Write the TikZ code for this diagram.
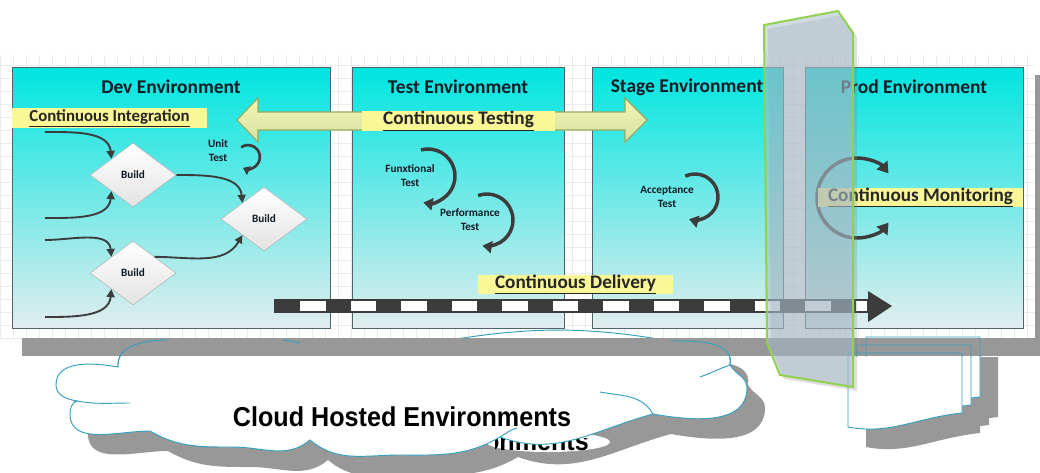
\documentclass[tikz,border=0pt]{standalone}
\usepackage{fontspec}
\setmainfont{Carlito}
\newfontfamily\cloudfont[FakeStretch=0.92]{Liberation Sans}
\usetikzlibrary{shapes.geometric}
\usetikzlibrary{arrows.meta}
\newcommand{\pxu}{0.75pt}

\definecolor{envtop}{RGB}{0,229,224}
\definecolor{envmid}{RGB}{85,226,224}
\definecolor{envbot}{RGB}{226,237,238}
\definecolor{envline}{RGB}{80,100,105}
\definecolor{titletext}{RGB}{15,25,35}
\definecolor{hilite}{RGB}{250,247,150}
\definecolor{testtop}{RGB}{245,246,175}
\definecolor{testbot}{RGB}{212,224,165}
\definecolor{testline}{RGB}{150,170,90}
\definecolor{darkarr}{RGB}{60,60,60}
\definecolor{shadowgrey}{RGB}{152,152,152}
\definecolor{cloudline}{RGB}{50,160,190}
\definecolor{panefill}{RGB}{170,190,205}
\definecolor{panegreen}{RGB}{146,208,80}

\tikzset{
  envbox/.style={draw=envline, line width=0.8pt, top color=envtop, middle color=envmid, bottom color=envbot, anchor=north west, inner sep=0pt},
  envtitle/.style={font=\fontsize{14.6}{16}\selectfont\bfseries, text=titletext},
  hilite/.style={fill=hilite, inner sep=0pt, font=\fontsize{14.4}{16}\selectfont\bfseries, text=black!85},
  buildbox/.style={diamond, draw=gray!60, top color=white, bottom color=gray!22, minimum width=86*\pxu, minimum height=64*\pxu, inner sep=0pt, font=\fontsize{8.4}{9}\selectfont\bfseries, text=titletext},
  flow/.style={draw=darkarr, line width=1.4pt, -{Triangle[length=6pt,width=6pt]}},
  cyclearrow/.style={draw=darkarr, line width=2.6pt, -{Triangle[length=7pt,width=9pt]}},
  smalllabel/.style={font=\fontsize{8.4}{10.5}\selectfont\bfseries, align=center, text=titletext},
  gridline/.style={draw=gray!16, line width=0.4pt},
  docpage/.style={draw=cloudline, line width=0.7pt, fill=white},
  cloudedge/.style={draw=cloudline, line width=0.7pt},
  cloudtext/.style={font=\cloudfont\bfseries\fontsize{20.5}{24}\selectfont, text=black, inner sep=0pt}
}

\begin{document}
\begin{tikzpicture}[x=0.75pt,y=0.75pt]
  \useasboundingbox (0,0) rectangle (1040,-472);

  \fill[shadowgrey] (1035,-75) rectangle (1040,-338);
  \fill[white] (0,-55) rectangle (1035,-338);
  \draw[gridline, step=9.75pt] (0,-338) grid (1035,-55);

  \node[envbox, minimum width=318*\pxu, minimum height=261*\pxu] (dev) at (12,-67) {};
  \node[envbox, minimum width=212*\pxu, minimum height=261*\pxu] (test) at (352,-67) {};
  \node[envbox, minimum width=191*\pxu, minimum height=261*\pxu] (stage) at (592,-67) {};
  \node[envbox, minimum width=218*\pxu, minimum height=261*\pxu] (prod) at (805,-67) {};

  \node[envtitle] (devtitle) at (171,-87) {Dev Environment};
  \node[envtitle] (testtitle) at (458,-87) {Test Environment};
  \node[envtitle] (stagetitle) at (687,-87) {Stage Environment};
  \node[envtitle] (prodtitle) at (914,-87) {Prod Environment};

  \draw[draw=testline, top color=testtop, bottom color=testbot, line width=0.8pt] (237,-120) -- (258,-98) -- (258,-112) -- (625,-112) -- (625,-98) -- (647,-120) -- (625,-142) -- (625,-130) -- (258,-130) -- (258,-142) -- cycle;

  \node[hilite, minimum width=195*\pxu, minimum height=20*\pxu, font=\fontsize{12.6}{14}\selectfont\bfseries] (ci) at (109.5,-118) {\underline{Continuous Integration}};
  \node[hilite, minimum width=193*\pxu, minimum height=19*\pxu] (ct) at (458.5,-121) {\underline{Continuous Testing}};

  \node[buildbox] (b1) at (133,-175) {Build};
  \node[buildbox] (b2) at (264,-219) {Build};
  \node[buildbox] (b3) at (133,-273) {Build};
  \coordinate (in1) at (45,-132);
  \coordinate (in2) at (45,-218);
  \coordinate (in3) at (45,-240);
  \coordinate (in4) at (45,-317);
  \draw[flow] (in1) to[out=0,in=95] (b1.north west);
  \draw[flow] (in2) to[out=0,in=-95] (b1.south west);
  \draw[flow] (in3) to[out=0,in=95] (b3.north west);
  \draw[flow] (in4) to[out=0,in=-95] (b3.south west);
  \draw[flow] (b1.east) to[out=0,in=95] (b2.north west);
  \draw[flow] (b3.north east) to[out=0,in=-120] (b2.south west);

  \node[smalllabel] (unitlbl) at (218,-151) {Unit\\Test};
  \coordinate (unitc) at (248,-157);
  \draw[cyclearrow, line width=2pt, -{Triangle[length=5pt,width=7pt]}] (unitc) ++(125:12) arc[start angle=125, end angle=-115, radius=12];

  \node[smalllabel] (funclbl) at (410,-176) {Funxtional\\Test};
  \coordinate (funcc) at (428,-176);
  \draw[cyclearrow] (funcc) ++(105:27) arc[start angle=105, end angle=-100, radius=27];
  \node[smalllabel] (perflbl) at (470,-220) {Performance\\Test};
  \coordinate (perfc) at (487,-220);
  \draw[cyclearrow] (perfc) ++(110:26) arc[start angle=110, end angle=-100, radius=26];

  \node[smalllabel] (acclbl) at (667,-197) {Acceptance\\Test};
  \coordinate (accc) at (695,-197);
  \draw[cyclearrow] (accc) ++(115:23) arc[start angle=115, end angle=-105, radius=23];

  \coordinate (monc) at (857,-198);
  \draw[cyclearrow, -{Triangle[length=8pt,width=10pt]}] (monc) ++(180:40) arc[start angle=180, end angle=38, radius=40];
  \draw[cyclearrow, -{Triangle[length=8pt,width=10pt]}] (monc) ++(180:40) arc[start angle=180, end angle=322, radius=40];
  \node[hilite, minimum width=205*\pxu, minimum height=19*\pxu] (cm) at (920.5,-197.5) {\underline{Continuous Monitoring}};

  \node[hilite, minimum width=195*\pxu, minimum height=17*\pxu] (cd) at (575.5,-284.5) {\underline{Continuous Delivery}};
  \draw[draw=darkarr, fill=white, line width=0.8pt] (275,-300) rectangle (868,-312);
  \foreach \k in {0,...,11}
    \fill[darkarr] ({275+50.5*\k},-300) rectangle ({300.25+50.5*\k},-312);
  \fill[darkarr] (868,-291) -- (892,-306) -- (868,-322) -- cycle;

  \newcommand{\docshape}{(0,0) -- (114,0) -- (114,-60) .. controls (67,-65) and (42,-82) .. (0,-74) -- cycle}
  \newcommand{\cloudpath}{(118,-367) to[out=170,in=90] (56,-385) to[out=-90,in=170] (77,-401)
    to[out=200,in=90] (70,-414) to[out=-90,in=180] (150,-431)
    to[out=-30,in=180] (233,-447) to[out=0,in=-140] (310,-440)
    to[out=-40,in=180] (400,-455) to[out=0,in=-150] (500,-437)
    to[out=-20,in=-165] (653,-414)
    to[out=-10,in=-90] (747,-388) to[out=90,in=-60] (730,-365)
    to[out=80,in=0] (670,-341) to[out=170,in=10] (420,-345)
    to[out=190,in=0] (167,-340) to[out=180,in=95] cycle}

  \foreach \dx/\dy in {866/-337,857/-345,848/-353}
    \fill[shadowgrey, shift={(\dx+18,\dy-20)}] \docshape;
  \fill[shadowgrey, shift={(18,-20)}] \cloudpath;
  \foreach \dx/\dy in {866/-337,857/-345,848/-353}
    \filldraw[docpage, shift={(\dx,\dy)}] \docshape;
  \fill[white] (548,-442) ellipse [x radius=62, y radius=10];
  \begin{scope}
    \clip (495,-438) rectangle (600,-460);
    \node[cloudtext] (ghostlbl) at (505,-441) {Environments};
  \end{scope}
  \filldraw[white, cloudedge] \cloudpath;

  \fill[shadowgrey] (22,-338) rectangle (1040,-356);
  \begin{scope}
    \clip (22,-338) rectangle (1040,-356);
    \foreach \dx/\dy in {866/-337,857/-345,848/-353}
      \draw[docpage, fill=none, shift={(\dx,\dy)}] \docshape;
  \end{scope}
  \draw[cloudedge] (118,-367) to[out=95,in=180] (167,-340);
  \draw[cloudedge] (283,-340) to[out=-5,in=170] (300,-343);
  \draw[cloudedge] (730,-365) to[out=80,in=0] (670,-341);
  \draw[cloudedge] (77,-401) to[out=-10,in=180] (130,-403);
  \draw[cloudedge] (500,-437) to[out=30,in=195] (517,-428);
  \draw[cloudedge] (600,-392) to[out=-10,in=120] (653,-414);
  \draw[cloudedge] (700,-377) to[out=20,in=200] (730,-365);
  \node[cloudtext] (cloudlbl) at (402,-417) {Cloud Hosted Environments};

  \fill[gray, opacity=0.25, shift={(4,-4)}] (764,-25) -- (838,-11) -- (853,-33) -- (853,-387) -- (780,-375) -- (767,-343) -- cycle;
  \filldraw[draw=panegreen, line width=1.5pt, fill=panefill, fill opacity=0.55] (764,-25) -- (838,-11) -- (853,-33) -- (853,-387) -- (780,-375) -- (767,-343) -- cycle;
\end{tikzpicture}
\end{document}
